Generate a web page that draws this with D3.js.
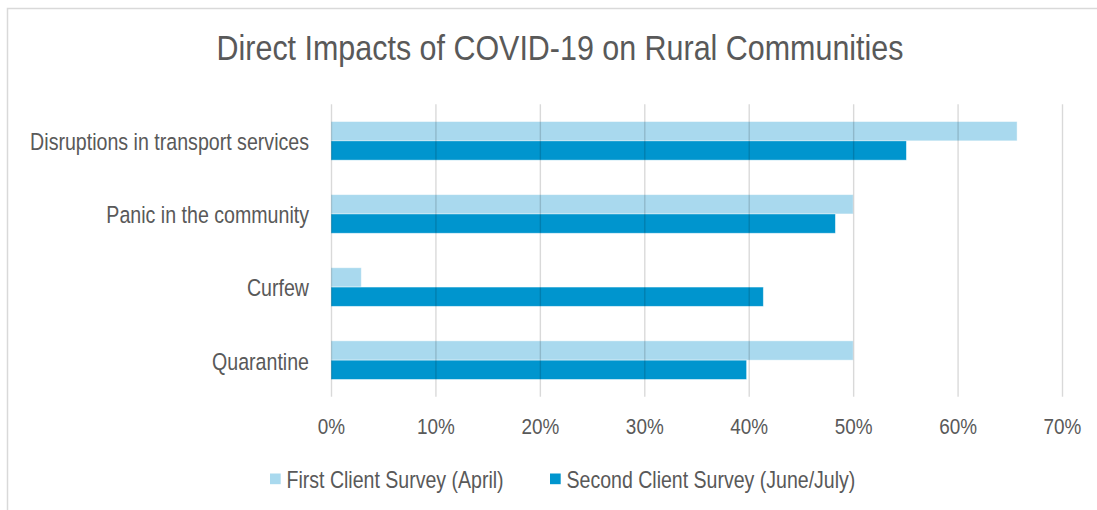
<!DOCTYPE html>
<html>
<head>
<meta charset="utf-8">
<script src="https://cdn.jsdelivr.net/npm/d3@7"></script>
<style>
  html, body { margin: 0; padding: 0; background: #fff; }
  svg { display: block; }
  text { font-family: "Liberation Sans", Arial, sans-serif; fill: #595959; }
</style>
</head>
<body>
<svg id="chart" width="1097" height="510"></svg>
<script>
// Share of respondents reporting each impact, by survey round
const categories = ["Disruptions in transport services", "Panic in the community", "Curfew", "Quarantine"];
const seriesNames = ["First Client Survey (April)", "Second Client Survey (June/July)"];
const firstSurvey = [65.7, 50.0, 2.9, 50.0];
const secondSurvey = [55.1, 48.3, 41.4, 39.8];
const tickValues = [0, 10, 20, 30, 40, 50, 60, 70];
const title = "Direct Impacts of COVID-19 on Rural Communities";

const colors = ["#a9d9ee", "#0095ce"];
const seriesValues = [firstSurvey, secondSurvey];

const svg = d3.select("#chart");
const W = 1097, H = 510;
const plot = { left: 331, right: 1062, top: 104.3, bottom: 396.7 };

// chart frame
svg.append("rect")
  .attr("x", 7.5).attr("y", 8.5)
  .attr("width", W + 20).attr("height", H + 20)
  .attr("fill", "#fff").attr("stroke", "#d9d9d9").attr("stroke-width", 1.5);

// title (condensed glyphs)
svg.append("text")
  .attr("transform", "translate(560,59.5) scale(0.87,1)")
  .attr("text-anchor", "middle")
  .attr("font-size", 35)
  .text(title);

const x = d3.scaleLinear().domain([0, 70]).range([plot.left, plot.right]);
const y = d3.scaleBand().domain(categories)
  .range([plot.top, plot.bottom])
  .paddingInner(0.472).paddingOuter(0.236);
const ySub = d3.scaleBand().domain(seriesNames).range([0, y.bandwidth()]);

// bars
const groups = svg.append("g").selectAll("g")
  .data(categories)
  .join("g")
  .attr("transform", c => `translate(0,${y(c)})`);

groups.selectAll("rect")
  .data((c, i) => seriesNames.map((s, k) => ({ s, k, v: seriesValues[k][i] })))
  .join("rect")
  .attr("x", x(0))
  .attr("y", d => ySub(d.s))
  .attr("width", d => x(d.v) - x(0))
  .attr("height", ySub.bandwidth())
  .attr("fill", d => colors[d.k])
  .attr("stroke", "rgba(255,255,255,0.55)")
  .attr("stroke-width", 0.8);

// value axis with vertical gridlines drawn over the bars
const xAxis = svg.append("g")
  .attr("transform", `translate(0,${plot.bottom})`)
  .call(d3.axisBottom(x)
    .tickValues(tickValues)
    .tickFormat(d => d + "%")
    .tickSize(-(plot.bottom - plot.top)));
xAxis.attr("font-family", null);
xAxis.select(".domain").remove();
xAxis.selectAll(".tick line")
  .attr("stroke", "rgba(0,0,0,0.15)")
  .attr("stroke-width", 1.4);
xAxis.selectAll(".tick text")
  .attr("y", 37.8).attr("dy", 0)
  .attr("transform", "scale(0.86,1)")
  .attr("font-size", 22)
  .attr("fill", null);

// category axis
const yAxis = svg.append("g")
  .attr("transform", "translate(309,0)")
  .call(d3.axisLeft(y).tickSize(0).tickPadding(0));
yAxis.attr("font-family", null);
yAxis.select(".domain").remove();
yAxis.selectAll(".tick text")
  .attr("x", 0).attr("dy", "0.4em")
  .attr("transform", "scale(0.835,1)")
  .attr("font-size", 23.5)
  .attr("fill", null);

// legend
const legendX = [270, 550];
const legend = svg.append("g").selectAll("g")
  .data(seriesNames)
  .join("g")
  .attr("transform", (d, i) => `translate(${legendX[i]},473.5)`);
legend.append("rect")
  .attr("width", 10.7).attr("height", 10.7)
  .attr("fill", (d, i) => colors[i]);
legend.append("text")
  .attr("transform", "translate(16.5,14.5) scale(0.85,1)")
  .attr("font-size", 23)
  .text(d => d);
</script>
</body>
</html>
